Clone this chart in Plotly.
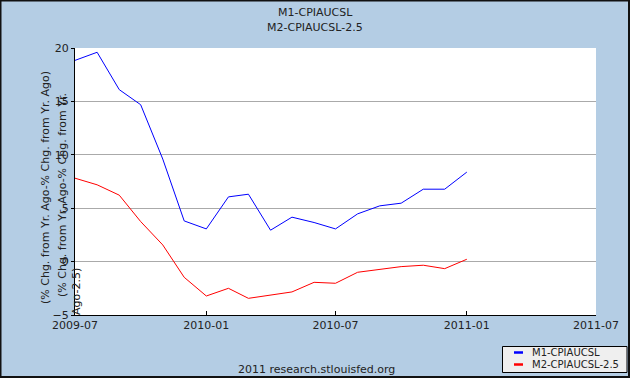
import plotly.graph_objects as go

months = ["2009-07-01", "2009-08-01", "2009-09-01", "2009-10-01", "2009-11-01", "2009-12-01",
          "2010-01-01", "2010-02-01", "2010-03-01", "2010-04-01", "2010-05-01", "2010-06-01",
          "2010-07-01", "2010-08-01", "2010-09-01", "2010-10-01", "2010-11-01", "2010-12-01",
          "2011-01-01"]
m1_cpi = [18.84, 19.6, 16.1, 14.69, 9.6, 3.81, 3.06, 6.06, 6.31, 2.94, 4.16, 3.66,
          3.06, 4.47, 5.22, 5.47, 6.78, 6.78, 8.38]
m2_cpi_adj = [7.81, 7.19, 6.22, 3.75, 1.56, -1.47, -3.22, -2.5, -3.44, -3.13, -2.84, -1.94,
              -2.03, -1.0, -0.72, -0.47, -0.34, -0.66, 0.22]
series_names = ["M1-CPIAUCSL", "M2-CPIAUCSL-2.5"]
x_ticks = ["2009-07-01", "2010-01-01", "2010-07-01", "2011-01-01", "2011-07-01"]
x_tick_labels = ["2009-07", "2010-01", "2010-07", "2011-01", "2011-07"]
y_ticks = [-5, 0, 5, 10, 15, 20]

W, H = 630, 378
L, R, T, B = 75, 34, 48, 63
PW, PH = W - L - R, H - T - B

def px(xp):
    return (xp - L) / PW

def py(yp):
    return (H - B - yp) / PH

FONT = "DejaVu Sans"
TXT = "#222222"
BG = "#B4CDE4"

fig = go.Figure()
fig.add_trace(go.Scatter(x=months, y=m1_cpi, mode="lines", name=series_names[0],
                         line=dict(color="#0000FF", width=1), showlegend=False))
fig.add_trace(go.Scatter(x=months, y=m2_cpi_adj, mode="lines", name=series_names[1],
                         line=dict(color="#FF0000", width=1), showlegend=False))

fig.update_layout(
    width=W, height=H,
    margin=dict(l=L, r=R, t=T, b=B),
    paper_bgcolor=BG, plot_bgcolor="white",
    font=dict(family=FONT, size=11, color=TXT),
    showlegend=False,
)
fig.update_xaxes(
    type="date", range=["2009-07-01", "2011-07-01"],
    tickvals=x_ticks, ticktext=x_tick_labels,
    ticks="inside", ticklen=4, tickcolor="black", tickwidth=1,
    showline=True, linecolor="black", linewidth=1,
    showgrid=False, zeroline=False,
    tickfont=dict(family=FONT, size=11, color=TXT),
)
fig.update_yaxes(
    range=[-5, 20], tickvals=y_ticks,
    ticks="outside", ticklen=3, tickcolor="black",
    showline=True, linecolor="black", linewidth=1,
    showgrid=True, gridcolor="#AAAAAA", gridwidth=1, zeroline=False,
    tickfont=dict(family=FONT, size=11, color=TXT),
    ticklabelstandoff=0,
)

ann = []
# titles
ann.append(dict(text=series_names[0], x=px(315), y=py(13), xref="paper", yref="paper",
                showarrow=False, xanchor="center", yanchor="middle", font=dict(size=11, color=TXT)))
ann.append(dict(text=series_names[1], x=px(315), y=py(27), xref="paper", yref="paper",
                showarrow=False, xanchor="center", yanchor="middle", font=dict(size=11, color=TXT)))
# y-axis titles (overlapping, as in the reference)
ann.append(dict(text="(% Chg. from Yr. Ago-% Chg. from Yr. Ago)", x=px(45), y=py(188),
                xref="paper", yref="paper", showarrow=False, textangle=-90,
                xanchor="center", yanchor="middle", font=dict(size=11, color=TXT)))
ann.append(dict(text="(% Chg. from Yr. Ago-% Chg. from Yr.", x=px(62), y=py(195),
                xref="paper", yref="paper", showarrow=False, textangle=-90,
                xanchor="center", yanchor="middle", font=dict(size=11, color=TXT)))
ann.append(dict(text="Ago-2.5)", x=px(76), y=py(292),
                xref="paper", yref="paper", showarrow=False, textangle=-90,
                xanchor="center", yanchor="middle", font=dict(size=11, color=TXT)))
# footer
ann.append(dict(text="2011 research.stlouisfed.org", x=px(316), y=py(369), xref="paper", yref="paper",
                showarrow=False, xanchor="center", yanchor="middle", font=dict(size=11, color=TXT)))
# legend text
ann.append(dict(text=series_names[0], x=px(530), y=py(352.5), xref="paper", yref="paper",
                showarrow=False, xanchor="left", yanchor="middle", font=dict(size=10, color=TXT)))
ann.append(dict(text=series_names[1], x=px(530), y=py(364.5), xref="paper", yref="paper",
                showarrow=False, xanchor="left", yanchor="middle", font=dict(size=10, color=TXT)))

shapes = []
# outer frame
shapes.append(dict(type="rect", xref="paper", yref="paper", x0=px(0.5), x1=px(629), y0=py(377), y1=py(0.5),
                   line=dict(color="#111111", width=2), fillcolor="rgba(0,0,0,0)", layer="above"))
# legend box
shapes.append(dict(type="rect", xref="paper", yref="paper", x0=px(502.5), x1=px(627), y0=py(372.5), y1=py(346.5),
                   line=dict(color="black", width=1), fillcolor="#EFEFEF", layer="above"))
shapes.append(dict(type="line", xref="paper", yref="paper", x0=px(514), x1=px(523), y0=py(352.5), y1=py(352.5),
                   line=dict(color="#0000FF", width=2.5), layer="above"))
shapes.append(dict(type="line", xref="paper", yref="paper", x0=px(514), x1=px(523), y0=py(364.5), y1=py(364.5),
                   line=dict(color="#FF0000", width=2.5), layer="above"))

fig.update_layout(annotations=ann, shapes=shapes)
fig.write_html("out.html", config={"displayModeBar": False},
               post_script="document.body.style.margin='0';document.body.style.overflow='hidden';")
